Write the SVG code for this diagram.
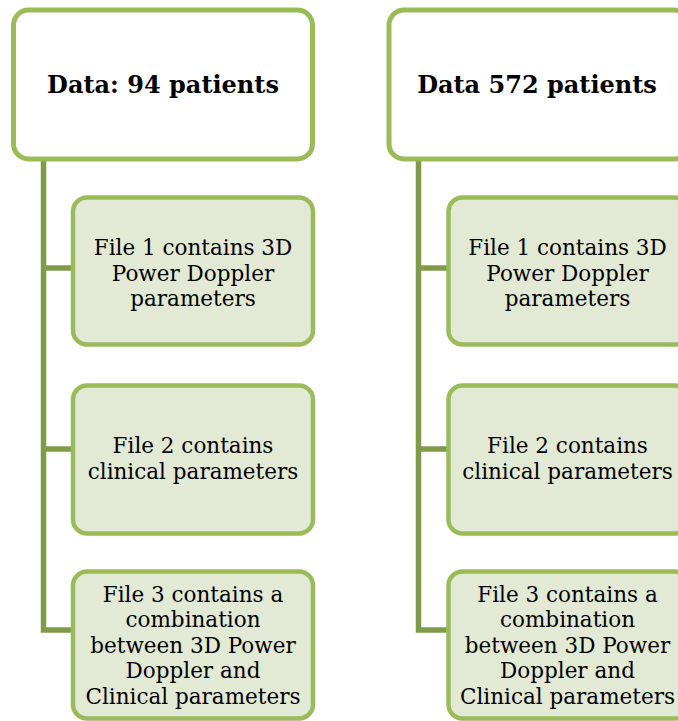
<svg xmlns="http://www.w3.org/2000/svg" width="678" height="721" viewBox="0 0 678 721">
  <style>
    .head { fill: #ffffff; stroke: #9bbb59; stroke-width: 5; }
    .item { fill: #e2e9d5; stroke: #9bbb59; stroke-width: 4.5; }
    .link { fill: none; stroke: #7f9b4a; stroke-width: 5.5; stroke-linejoin: miter; }
    .ht { font-family: "DejaVu Serif", "Liberation Serif", serif; font-weight: bold; font-size: 24px; fill: #000; text-anchor: middle; }
    .it { font-family: "DejaVu Serif", "Liberation Serif", serif; font-size: 21.5px; fill: #000; text-anchor: middle; }
  </style>

  <!-- connectors -->
  <g id="connectors">
    <path class="link" d="M43.5,159 V630 H73 M43.5,268 H73 M43.5,449 H73"/>
    <path class="link" d="M418.5,159 V630 H448.5 M418.5,268 H448.5 M418.5,449 H448.5"/>
  </g>

  <!-- left column -->
  <g id="head-left">
    <rect class="head" x="13.5" y="10" width="299" height="149" rx="15"/>
    <text class="ht" x="163" y="93">Data: 94 patients</text>
  </g>
  <g id="left-file1">
    <rect class="item" x="73" y="197.5" width="240" height="147" rx="14"/>
    <text class="it" x="193" y="255">File 1 contains 3D</text>
    <text class="it" x="193" y="280.5">Power Doppler</text>
    <text class="it" x="193" y="306">parameters</text>
  </g>
  <g id="left-file2">
    <rect class="item" x="73" y="385.5" width="240" height="148" rx="14"/>
    <text class="it" x="193" y="453">File 2 contains</text>
    <text class="it" x="193" y="479">clinical parameters</text>
  </g>
  <g id="left-file3">
    <rect class="item" x="73" y="571.5" width="240" height="147" rx="14"/>
    <text class="it" x="193" y="601.5">File 3 contains a</text>
    <text class="it" x="193" y="627">combination</text>
    <text class="it" x="193" y="652.5">between 3D Power</text>
    <text class="it" x="193" y="678">Doppler and</text>
    <text class="it" x="193" y="704">Clinical parameters</text>
  </g>

  <!-- right column -->
  <g id="head-right">
    <rect class="head" x="389" y="10" width="300" height="149" rx="15"/>
    <text class="ht" x="537" y="93">Data 572 patients</text>
  </g>
  <g id="right-file1">
    <rect class="item" x="448.5" y="197.5" width="240" height="147" rx="14"/>
    <text class="it" x="567.5" y="255">File 1 contains 3D</text>
    <text class="it" x="567.5" y="280.5">Power Doppler</text>
    <text class="it" x="567.5" y="306">parameters</text>
  </g>
  <g id="right-file2">
    <rect class="item" x="448.5" y="385.5" width="240" height="148" rx="14"/>
    <text class="it" x="567.5" y="453">File 2 contains</text>
    <text class="it" x="567.5" y="479">clinical parameters</text>
  </g>
  <g id="right-file3">
    <rect class="item" x="448.5" y="571.5" width="240" height="147" rx="14"/>
    <text class="it" x="567.5" y="601.5">File 3 contains a</text>
    <text class="it" x="567.5" y="627">combination</text>
    <text class="it" x="567.5" y="652.5">between 3D Power</text>
    <text class="it" x="567.5" y="678">Doppler and</text>
    <text class="it" x="567.5" y="704">Clinical parameters</text>
  </g>
</svg>
